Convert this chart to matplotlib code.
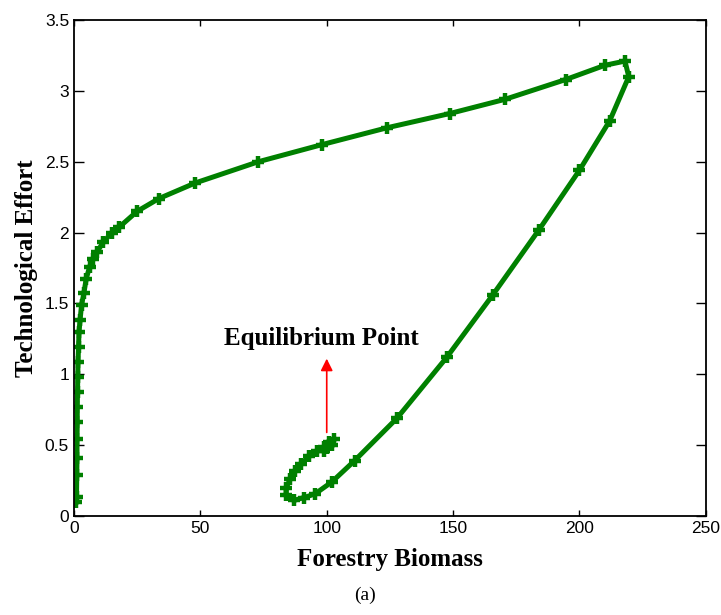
import matplotlib
matplotlib.use("Agg")
import matplotlib.pyplot as plt

# trajectory (forestry biomass, technological effort)
biomass = [0.9, 1.0, 1.1, 1.2, 1.2, 1.3, 1.3, 1.4, 1.5, 1.6, 1.8, 2.0, 2.4, 3.0,
           3.9, 4.8, 6.2, 7.5, 9, 11.5, 15, 18, 25, 33.6, 48, 73, 98, 124, 148.7,
           170.5, 194.6, 210, 218, 219.5, 212, 200, 184, 165.7, 147.5, 127.8,
           111, 102, 95.3, 91, 87, 84, 84, 85.5, 87.5, 90, 93, 96, 99, 101, 103,
           102, 99, 100, 101]
effort = [0.10, 0.134, 0.29, 0.41, 0.54, 0.66, 0.77, 0.875, 0.98, 1.09, 1.19,
          1.30, 1.38, 1.49, 1.57, 1.67, 1.76, 1.81, 1.86, 1.93, 2.0, 2.04, 2.15,
          2.24, 2.35, 2.5, 2.62, 2.74, 2.84, 2.94, 3.08, 3.18, 3.21, 3.10, 2.79,
          2.44, 2.02, 1.56, 1.12, 0.69, 0.39, 0.24, 0.155, 0.13, 0.11, 0.15,
          0.2, 0.26, 0.32, 0.37, 0.42, 0.46, 0.49, 0.52, 0.54, 0.5, 0.46, 0.48,
          0.5]

fig = plt.figure(figsize=(7.21, 6.15), dpi=100)
ax = fig.add_axes([0.1026, 0.161, 0.8764, 0.8065])

ax.plot(biomass, effort, color="#008000", lw=3.6, marker="+", ms=9, mew=3.2)

ax.set_xlim(0, 250)
ax.set_ylim(0, 3.5)
ax.set_xticks([0, 50, 100, 150, 200, 250])
ax.set_yticks([0, 0.5, 1, 1.5, 2, 2.5, 3, 3.5])
ax.set_yticklabels(["0", "0.5", "1", "1.5", "2", "2.5", "3", "3.5"])
ax.tick_params(direction="in", top=True, right=True, width=1, labelsize=12.5)
ax.tick_params(axis="x", length=4)
ax.tick_params(axis="y", length=7)
for lab in ax.get_xticklabels() + ax.get_yticklabels():
    lab.set_family("Liberation Sans")
for s in ax.spines.values():
    s.set_linewidth(1.3)

ax.set_xlabel("Forestry Biomass", family="Liberation Serif", weight="bold",
              fontsize=18, labelpad=9)
ax.set_ylabel("Technological Effort", family="Liberation Serif",
              weight="bold", fontsize=18, labelpad=5)

# equilibrium annotation
ax.annotate("", xy=(100, 1.13), xytext=(100, 0.57),
            arrowprops=dict(arrowstyle="-|>", color="red", lw=1.2,
                            mutation_scale=18))
ax.text(98, 1.25, "Equilibrium Point", family="Liberation Serif",
        weight="bold", fontsize=18, ha="center", va="center")

fig.text(0.506, 0.032, "(a)", family="Liberation Serif", fontsize=14,
         ha="center", va="center")

fig.savefig("out.png", dpi=100)
